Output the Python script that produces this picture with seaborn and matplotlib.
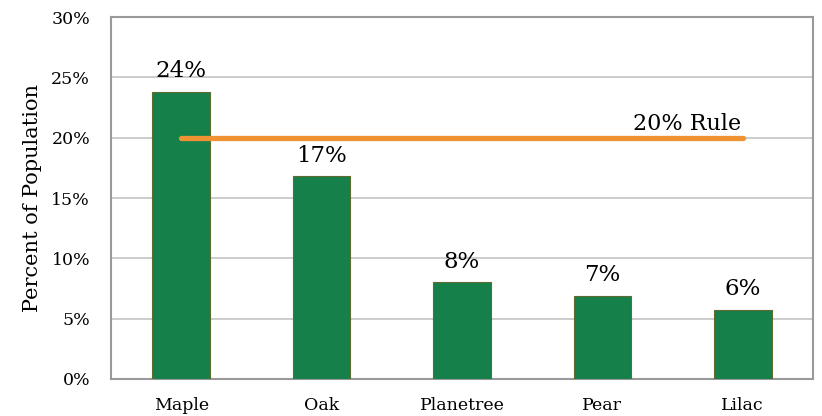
import matplotlib
matplotlib.use("Agg")
import matplotlib.pyplot as plt
import seaborn as sns
import pandas as pd

categories = ["Maple", "Oak", "Planetree", "Pear", "Lilac"]
percents = [23.8, 16.8, 8.0, 6.9, 5.7]
labels = ["24%", "17%", "8%", "7%", "6%"]
rule_value = 20
rule_label = "20% Rule"
yticks = [0, 5, 10, 15, 20, 25, 30]
ylabel = "Percent of Population"

sns.set_theme(style="white")
plt.rcParams['font.family'] = ['DejaVu Serif']
plt.rcParams['text.color'] = 'black'
plt.rcParams['axes.labelcolor'] = 'black'
plt.rcParams['xtick.color'] = 'black'
plt.rcParams['ytick.color'] = 'black'

df = pd.DataFrame({"Tree": categories, "Percent": percents})

fig = plt.figure(figsize=(8.22, 4.16), dpi=100)
ax = fig.add_axes([0.135, 0.089, 0.854, 0.870])

sns.barplot(data=df, x="Tree", y="Percent", ax=ax, color="#15804A",
            width=0.41, edgecolor="#5E6B2E", linewidth=0.8, saturation=1, zorder=3)

ax.set_ylim(0, 30)
ax.set_xlim(-0.5, len(categories) - 0.5)
ax.set_yticks(yticks)
ax.set_yticklabels([f"{t}%" for t in yticks], fontsize=12.5)
ax.tick_params(axis="x", labelsize=12.5, pad=13, length=0)
ax.tick_params(axis="y", pad=15, length=0)
ax.set_xlabel("")
ax.set_ylabel(ylabel, fontsize=15, labelpad=7)
ax.grid(axis="y", color="#C4C4C4", linewidth=1.2, zorder=0)
for s in ax.spines.values():
    s.set_visible(True)
    s.set_color("#999999")
    s.set_linewidth(1.5)

for i, (v, lab) in enumerate(zip(percents, labels)):
    ax.annotate(lab, (i, v), xytext=(0, 7), textcoords="offset points",
                ha="center", va="bottom", fontsize=16.5, zorder=5)

ax.plot([0, len(categories) - 1], [rule_value, rule_value], color="#F09232",
        linewidth=3.8, solid_capstyle="round", zorder=4)
ax.annotate(rule_label, (3.6, rule_value), xytext=(0, 2), textcoords="offset points",
            ha="center", va="bottom", fontsize=16, zorder=5)

fig.savefig("out.png", dpi=100)
